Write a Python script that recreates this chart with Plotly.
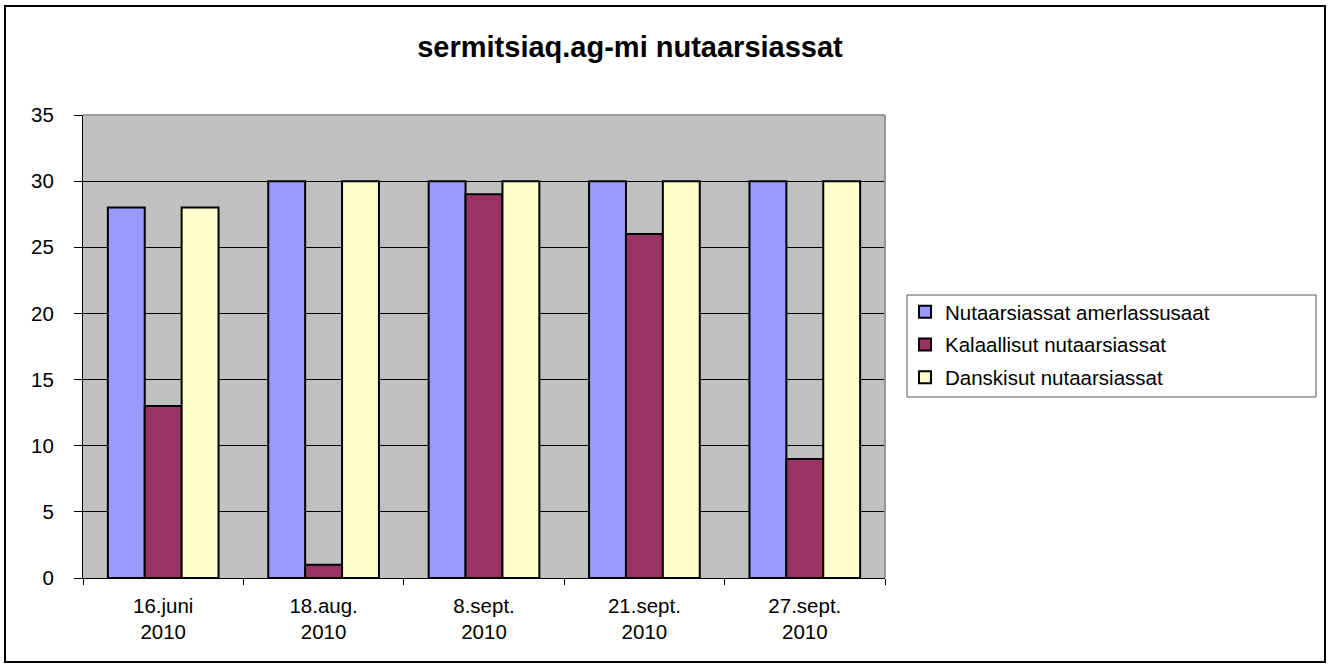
import plotly.graph_objects as go

categories = ["16.juni<br>2010", "18.aug.<br>2010", "8.sept.<br>2010", "21.sept.<br>2010", "27.sept.<br>2010"]
series_names = ["Nutaarsiassat amerlassusaat", "Kalaallisut nutaarsiassat", "Danskisut nutaarsiassat"]
amerlassusaat = [28, 30, 30, 30, 30]
kalaallisut = [13, 1, 29, 26, 9]
danskisut = [28, 30, 30, 30, 30]
colors = ["#9999FF", "#993366", "#FFFFCC"]

W, H = 1331, 667
L, R, T, B = 83, 885, 115, 578
pw, ph = R - L, B - T

def px(x):
    return (x - L) / pw

def py(y):
    return (B - y) / ph

FONT = "Arial, Liberation Sans, sans-serif"

fig = go.Figure()
for i, (name, vals) in enumerate(zip(series_names, [amerlassusaat, kalaallisut, danskisut])):
    fig.add_trace(go.Bar(
        x=categories, y=vals, name=name,
        marker=dict(color=colors[i], line=dict(color="black", width=2)),
        legendgroup=f"g{i}",
    ))

fig.update_layout(
    width=W, height=H,
    margin=dict(l=L, r=W - R, t=T, b=H - B),
    paper_bgcolor="white",
    plot_bgcolor="#C0C0C0",
    barmode="group",
    bargap=0.31,
    bargroupgap=0,
    font=dict(family=FONT, size=20, color="black"),
    title=dict(text="<b>sermitsiaq.ag-mi nutaarsiassat</b>", x=630 / W, xanchor="center",
               y=1 - 47 / H, yanchor="middle", xref="container", yref="container",
               font=dict(family=FONT, size=29, color="black")),
    legend=dict(x=px(905), xanchor="left", y=py(292), yanchor="top",
                font=dict(family=FONT, size=20.5, color="black"),
                bgcolor="rgba(0,0,0,0)", borderwidth=0, tracegroupgap=3),
    showlegend=True,
)

fig.update_xaxes(
    type="category", tickson="boundaries", ticks="outside", ticklen=6, tickcolor="black",
    showline=True, linecolor="black", linewidth=1, showgrid=False,
    ticklabelstandoff=9,
    tickfont=dict(family=FONT, size=20.5, color="black"),
)
fig.update_yaxes(
    range=[0, 35], dtick=5, tick0=0, ticks="outside", ticklen=8, tickcolor="black",
    showline=True, linecolor="black", linewidth=1, showgrid=True, gridcolor="black", gridwidth=1,
    zeroline=False, ticklabelstandoff=16,
    tickfont=dict(family=FONT, size=20.5, color="black"),
)

# plot area top/right border (gray)
fig.add_shape(type="line", xref="paper", yref="paper", x0=0, x1=1, y0=1, y1=1,
              line=dict(color="#999999", width=2))
fig.add_shape(type="line", xref="paper", yref="paper", x0=1, x1=1, y0=0, y1=1,
              line=dict(color="#999999", width=2))
# legend box
fig.add_shape(type="rect", xref="paper", yref="paper", x0=px(907), x1=px(1316), y0=py(397), y1=py(295),
              line=dict(color="#555555", width=1))
# outer frame
fig.add_shape(type="rect", xref="paper", yref="paper", x0=px(5), x1=px(1325), y0=py(662), y1=py(6),
              line=dict(color="black", width=2))

fig.write_html("out.html", config={"displayModeBar": False},
               post_script="document.body.style.margin='0';document.body.style.overflow='hidden';")
